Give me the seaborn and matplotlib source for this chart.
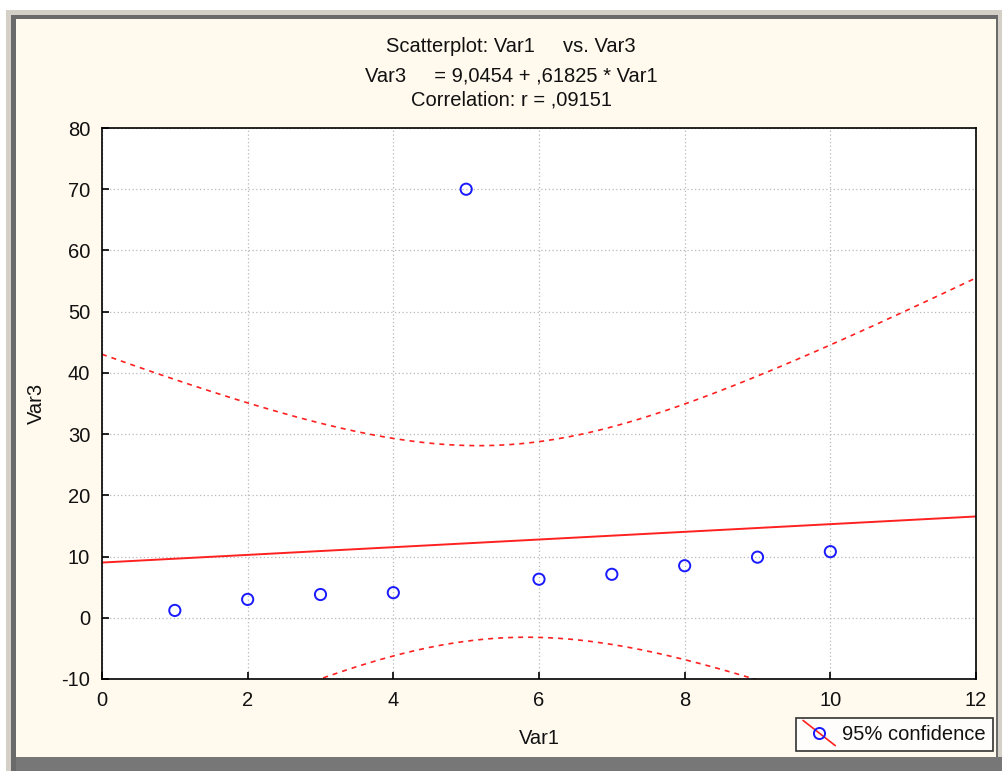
import numpy as np
import pandas as pd
import matplotlib
matplotlib.use("Agg")
import matplotlib.pyplot as plt
from matplotlib.patches import Rectangle
from matplotlib.lines import Line2D
from matplotlib.legend_handler import HandlerBase
import seaborn as sns

# ---- data ----
var1 = [1, 2, 3, 4, 5, 6, 7, 8, 9, 10]
var3 = [1.2, 3.0, 3.8, 4.1, 70.0, 6.3, 7.1, 8.5, 9.9, 10.8]
x_ticks = [0, 2, 4, 6, 8, 10, 12]
y_ticks = [-10, 0, 10, 20, 30, 40, 50, 60, 70, 80]
title_lines = ["Scatterplot: Var1     vs. Var3",
               "Var3     = 9,0454 + ,61825 * Var1",
               "Correlation: r = ,09151"]
legend_label = "95% confidence"
T_CRIT = 2.306  # t(0.975, df=8)

df = pd.DataFrame({"Var1": var1, "Var3": var3})

sns.set_theme(style="white")
plt.rcParams["font.family"] = ["Liberation Sans", "DejaVu Sans"]

FS = 14.5
W, H = 1002, 771
fig = plt.figure(figsize=(W / 100, H / 100), dpi=100, facecolor="white")

def prect(x0, y0, x1, y1, color, z=0):
    fig.patches.append(Rectangle((x0 / W, 1 - y1 / H), (x1 - x0) / W, (y1 - y0) / H,
                                 transform=fig.transFigure, facecolor=color,
                                 edgecolor="none", zorder=z))

# window frame
prect(6, 10, 1002, 771, "#D4D0C8", -5)
prect(11, 15, 998, 771, "#6A6A6A", -4)
prect(16, 19, 996, 757, "#FFF9EE", -3)
prect(16, 757, 1002, 771, "#777777", -3)

ax = fig.add_axes([102 / W, 1 - 679 / H, (976 - 102) / W, (679 - 128) / H])
ax.set_facecolor("white")
ax.set_xlim(0, 12)
ax.set_ylim(-10, 80)

# regression line
sns.regplot(data=df, x="Var1", y="Var3", scatter=False, ci=None, truncate=False,
            line_kws=dict(color="#FF2020", lw=1.4), ax=ax)

# confidence band (computed from the data)
x = np.asarray(var1, float)
y = np.asarray(var3, float)
b1, b0 = np.polyfit(x, y, 1)
resid = y - (b0 + b1 * x)
n = len(x)
s = np.sqrt(np.sum(resid ** 2) / (n - 2))
sxx = np.sum((x - x.mean()) ** 2)
xs = np.linspace(0, 12, 300)
yhat = b0 + b1 * xs
w = T_CRIT * s * np.sqrt(1 / n + (xs - x.mean()) ** 2 / sxx)
band = pd.DataFrame({"x": np.concatenate([xs, xs]),
                     "y": np.concatenate([yhat + w, yhat - w]),
                     "side": ["upper"] * len(xs) + ["lower"] * len(xs)})
for side in ["upper", "lower"]:
    sub = band[band.side == side]
    sns.lineplot(data=sub, x="x", y="y", ax=ax, color="#FF2020", lw=1.2,
                 linestyle=(0, (3, 3)), sort=False, estimator=None)

# scatter points
sns.scatterplot(data=df, x="Var1", y="Var3", ax=ax, marker="o", s=65,
                facecolors="none", edgecolor="#1A1AFF", linewidth=1.4, zorder=5)

ax.set_xlim(0, 12)
ax.set_ylim(-10, 80)
ax.set_xticks(x_ticks)
ax.set_yticks(y_ticks)
ax.set_xticklabels([str(t) for t in x_ticks])
ax.set_yticklabels([str(t) for t in y_ticks])
ax.grid(True, color="#B8B8B8", linestyle=(0, (1, 2)), lw=0.9)
ax.tick_params(direction="in", length=5, width=1.2, color="black",
               labelsize=FS, labelcolor="#111111", left=True, bottom=True)
ax.tick_params(axis="y", pad=8.5)
ax.tick_params(axis="x", pad=9)
for sp in ax.spines.values():
    sp.set_color("black")
    sp.set_linewidth(1.2)
ax.set_xlabel("Var1", fontsize=FS, labelpad=13, color="#111111")
ax.set_ylabel("Var3", fontsize=FS, labelpad=11, color="#111111")

for txt, ypx in zip(title_lines, [46, 76, 100]):
    fig.text(511 / W, 1 - ypx / H, txt, ha="center", va="center",
             fontsize=FS, color="#111111")

class DiagHandler(HandlerBase):
    def create_artists(self, legend, orig, xd, yd, width, height, fontsize, trans):
        ln = Line2D([xd, xd + width], [yd + height + 4, yd - 4], color="#FF2020",
                    lw=1.2, transform=trans)
        mk = Line2D([xd + width / 2], [yd + height / 2], marker="o", markersize=8,
                    markerfacecolor="none", markeredgecolor="#1A1AFF",
                    markeredgewidth=1.4, linestyle="none", transform=trans)
        return [ln, mk]

proxy = Line2D([], [], color="#FF2020")
leg = fig.legend([proxy], [legend_label], handler_map={Line2D: DiagHandler()},
                 loc="upper left", bbox_to_anchor=(796 / W, 1 - 718 / H),
                 frameon=True, fancybox=False, fontsize=FS, handlelength=1.6,
                 borderpad=0.35, handletextpad=0.35, borderaxespad=0)
leg.get_frame().set_edgecolor("black")
leg.get_frame().set_linewidth(1.2)
leg.get_frame().set_facecolor("white")
for t in leg.get_texts():
    t.set_color("#111111")

fig.savefig("out.png", dpi=100, facecolor=fig.get_facecolor())
